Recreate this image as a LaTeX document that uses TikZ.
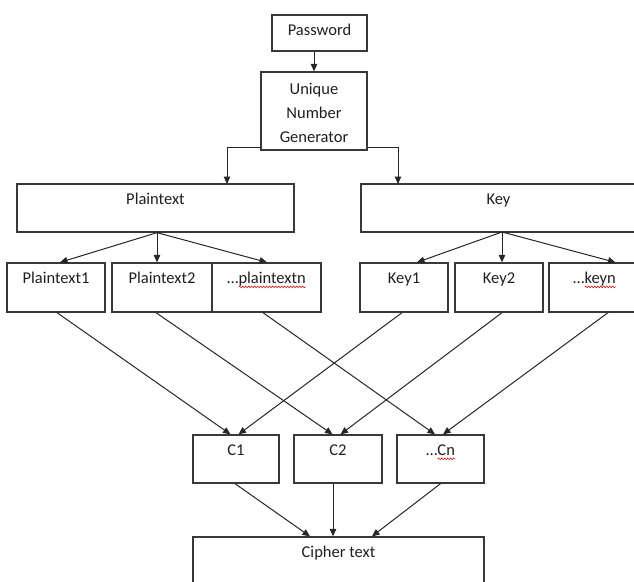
\documentclass[tikz,border=0pt]{standalone}
\usepackage{fontspec}
\setmainfont{Carlito}
\usetikzlibrary{arrows.meta,fit,decorations.pathmorphing}
\begin{document}
\fontsize{16.5}{24}\selectfont
\begin{tikzpicture}[x=1pt,y=-1pt,
  box/.style={draw=black!78, line width=1.3pt, inner sep=0pt, fit={#1}},
  txt/.style={inner sep=0pt, anchor=base, text=black!88},
  arr/.style={draw=black!85, line width=1pt, -{Triangle[length=7.5pt,width=6.5pt]}},
  wave/.style={draw=red!80!black, line width=0.5pt, decorate,
    decoration={snake, segment length=3pt, amplitude=0.9pt}}]
\useasboundingbox (0,0) rectangle (634,581);
\clip (0,0) rectangle (634,581);
\pgfmathsetmacro{\wpn}{width("plaintextn")}
\pgfmathsetmacro{\wkn}{width("keyn")}
\pgfmathsetmacro{\wcn}{width("Cn")}
% boxes
\node[box={(272,15) (367,51)}] (pw) {};
\node[box={(261,72) (367,150)}] (ung) {};
\node[box={(17,184) (294,232)}] (pt) {};
\node[box={(361,184) (640,232)}] (key) {};
\node[box={(7,263) (105,312)}] (p1) {};
\node[box={(112,263) (212,312)}] (p2) {};
\node[box={(212,263) (321,312)}] (pn) {};
\node[box={(360,263) (448,312)}] (k1) {};
\node[box={(455,263) (543,312)}] (k2) {};
\node[box={(549,263) (640,312)}] (kn) {};
\node[box={(193,435) (279,483)}] (c1) {};
\node[box={(294,435) (382,483)}] (c2) {};
\node[box={(397,435) (484,483)}] (cn) {};
\node[box={(193,537) (484,600)}] (ci) {};
% texts
\node[txt] (pwt) at ([yshift=-21pt]pw.north) {Password};
\node[inner sep=0pt, anchor=north, align=center, text=black!88] (ungt) at ([yshift=-12pt]ung.north) {Unique\\Number\\Generator};
\node[txt] (ptt) at ([yshift=-21pt]pt.north) {Plaintext};
\node[txt] (keyt) at ([yshift=-21pt,xshift=-2pt]key.north) {Key};
\node[txt] (p1t) at ([yshift=-21pt]p1.north) {Plaintext1};
\node[txt] (p2t) at ([yshift=-21pt]p2.north) {Plaintext2};
\node[txt] (pnt) at ([yshift=-21pt]pn.north) {…plaintextn};
\node[txt] (k1t) at ([yshift=-21pt]k1.north) {Key1};
\node[txt] (k2t) at ([yshift=-21pt]k2.north) {Key2};
\node[txt] (knt) at ([yshift=-21pt]kn.north) {…keyn};
\node[txt] (c1t) at ([yshift=-21pt]c1.north) {C1};
\node[txt] (c2t) at ([yshift=-21pt]c2.north) {C2};
\node[txt] (cnt) at ([yshift=-21pt]cn.north) {…Cn};
\node[txt] (cit) at ([yshift=-21pt]ci.north) {Cipher text};
% spell-check waves
\draw[wave] ([xshift=-\wpn pt, yshift=-3.5pt]pnt.base east) -- ([yshift=-3.5pt]pnt.base east);
\draw[wave] ([xshift=-\wkn pt, yshift=-3.5pt]knt.base east) -- ([yshift=-3.5pt]knt.base east);
\draw[wave] ([xshift=-\wcn pt, yshift=-3.5pt]cnt.base east) -- ([yshift=-3.5pt]cnt.base east);
% top connectors
\draw[arr] (ung.north |- pw.south) -- (ung.north);
\coordinate (ptin) at (227,184);
\coordinate (kin) at (398,184);
\draw[arr] ([yshift=3pt]ung.south west) -| (ptin);
\draw[arr] ([yshift=3pt]ung.south east) -| (kin);
% fans
\draw[arr] ([xshift=1.5pt]pt.south) -- ([xshift=4pt]p1.north);
\draw[arr] ([xshift=1.5pt]pt.south) -- ([xshift=1.5pt]pt.south |- p2.north);
\draw[arr] ([xshift=1.5pt]pt.south) -- ([xshift=0.5pt]pn.north);
\coordinate (ks) at (502,232);
\draw[arr] (ks) -- ([xshift=13pt]k1.north);
\draw[arr] (ks) -- (ks |- k2.north);
\draw[arr] (ks) -- ([xshift=21pt]kn.north);
% crossing lines
\draw[arr] ([xshift=1pt]p1.south) -- ([xshift=-5.5pt]c1.north);
\draw[arr] ([xshift=-6pt]p2.south) -- ([xshift=-5.5pt]c2.north);
\draw[arr] ([xshift=-3.5pt]pn.south) -- ([xshift=-5.5pt]cn.north);
\draw[arr] ([xshift=-2pt]k1.south) -- ([xshift=2.5pt]c1.north);
\draw[arr] ([xshift=3pt]k2.south) -- ([xshift=2.5pt]c2.north);
\draw[arr] ([xshift=13.5pt]kn.south) -- ([xshift=2.5pt]cn.north);
% to cipher
\draw[arr] ([xshift=-1pt]c1.south) -- ([xshift=-28.5pt]ci.north);
\draw[arr] ([xshift=-5pt]c2.south) -- ([xshift=-5.5pt]ci.north);
\draw[arr] (cn.south) -- ([xshift=33.5pt]ci.north);
\end{tikzpicture}
\end{document}
